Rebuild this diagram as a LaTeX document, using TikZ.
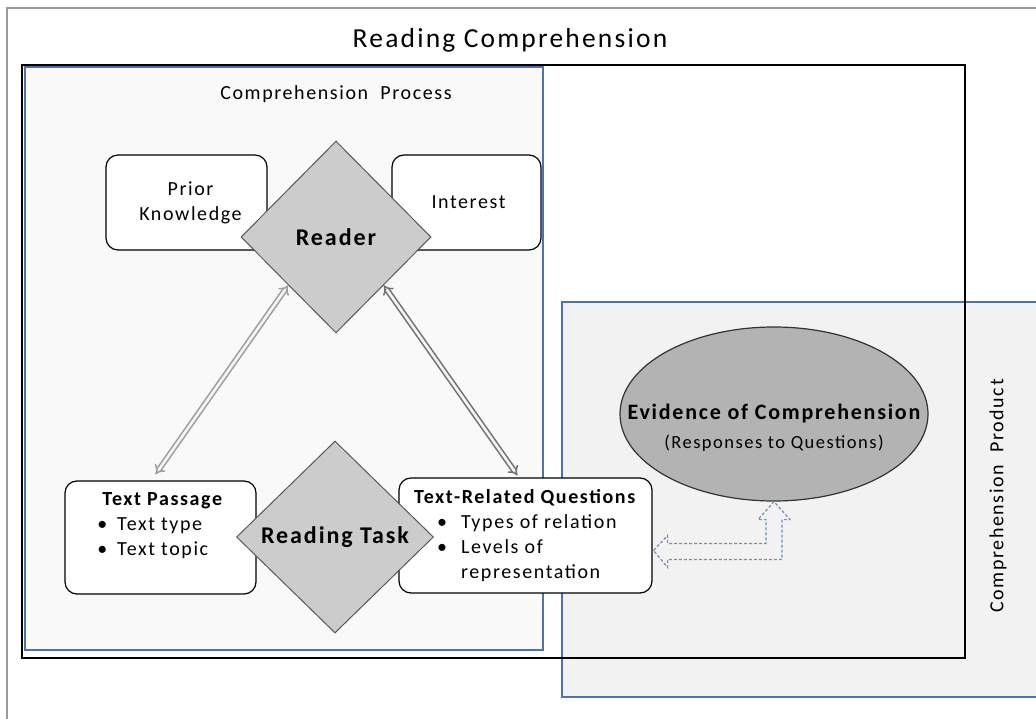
\documentclass[tikz,border=0pt]{standalone}
\usepackage{fontspec}
\setmainfont{Carlito}[LetterSpace=8]
\usetikzlibrary{shapes.geometric,arrows.meta,calc}
\definecolor{frameblue}{HTML}{4F73A8}
\definecolor{processfill}{HTML}{F9F9F9}
\definecolor{productfill}{HTML}{F2F2F2}
\definecolor{diamfill}{HTML}{CCCCCC}
\definecolor{evidfill}{HTML}{B3B3B3}
\begin{document}
\begin{tikzpicture}[x=1pt,y=-1pt,
  every node/.style={inner sep=0pt},
  boxtxt/.style={font=\fontsize{20}{25}\selectfont},
  roundbox/.style={draw=black, line width=1.2pt, rounded corners=12pt, fill=white, boxtxt},
  diam/.style={diamond, draw=black!65, line width=1pt, fill=diamfill, font=\fontsize{24}{28}\selectfont\bfseries},
  twoline/.style={double=white!92!gray, double distance=2.6pt, line width=1.6pt, {Implies}-{Implies}},
  blockarr/.style={draw=frameblue!80, line width=1.2pt, dash pattern=on 3pt off 2pt}]
\useasboundingbox (0,0) rectangle (1036,719);
\fill[white] (0,0) rectangle (1036,719);
% frames
\draw[gray!80, line width=1.5pt] (7,719) -- (7,8) -- (1036,8);
\draw[frameblue, fill=productfill, line width=1.2pt] (562,302) rectangle (1040,697);
\draw[black, line width=1.5pt] (22,65) rectangle (965,658);
\draw[frameblue, fill=processfill, line width=1.2pt] (25,67) rectangle (543,650);
\node[font=\fontsize{27.5}{30}\selectfont] (title) at (510,40) {Reading Comprehension};
\node[font=\fontsize{20}{24}\selectfont] (proc) at (336,94) {Comprehension\ \ Process};
\node[font=\fontsize{20}{24}\selectfont, rotate=90] (prod) at (998,496) {Comprehension\ \ Product};
% reader part
\node[roundbox, minimum width=161, minimum height=95, align=center] (prior) at (186.5,202.5) {\hspace{8pt}Prior\\\hspace{8pt}Knowledge};
\node[roundbox, minimum width=149, minimum height=95] (inter) at (466.5,202.5) {\hspace{4pt}Interest};
\node[diam, minimum width=190, minimum height=192] (reader) at (336,237) {Reader};
% task part
\node[roundbox, minimum width=191, minimum height=113] (tp) at (160.5,537.5) {\begin{tabular}{@{}l@{}}
  \hspace{5pt}\textbf{Text Passage}\hspace{10pt}\\
  \textbullet\hspace{10pt}Text type\\
  \textbullet\hspace{10pt}Text topic\\
  \mbox{}
\end{tabular}};
\node[roundbox, minimum width=253, minimum height=115] (trq) at (525.5,535.5) {\begin{tabular}{@{}l@{}}
  \textbf{Text-Related Questions}\\
  \hspace{23pt}\textbullet\hspace{14pt}Types of relation\\
  \hspace{23pt}\textbullet\hspace{14pt}Levels of\\
  \hspace{23pt}\phantom{\textbullet}\hspace{14pt}representation
\end{tabular}};
\node[diam, minimum width=197, minimum height=192] (task) at (335,537) {Reading Task};
% product
\node[ellipse, draw=black!80, line width=1.2pt, fill=evidfill, minimum width=308, minimum height=174,
  font=\fontsize{20}{29}\selectfont] (evid) at (774,414)
  {\makebox[0pt][c]{\raisebox{-19pt}[0pt][0pt]{\begin{tabular}{@{}c@{}}
    {\fontsize{22}{28}\selectfont\bfseries Evidence of Comprehension}\\
    {\fontsize{18.5}{24}\selectfont (Responses to Questions)}
  \end{tabular}}}};
% links
\draw[twoline, draw=gray!75] (reader.south west) -- ([xshift=-5pt, yshift=6pt]tp.north);
\draw[twoline, draw=gray!90!black] (reader.south east) -- ([xshift=-8pt, yshift=2pt]trq.north);
\coordinate (qa) at ($(trq.east)+(1,15)$);
\coordinate (eb) at (evid.south);
\draw[blockarr] (qa) -- ++(14,-15) -- ++(0,8) -- ($(eb |- qa)+(-8,-7)$) -- ($(eb)+(-8,18)$) -- ++(-8,0) -- (eb)
  -- ($(eb)+(16,18)$) -- ++(-8,0) -- ($(eb |- qa)+(8,9)$) -- ($(qa)+(14,9)$) -- ++(0,8) -- cycle;
\end{tikzpicture}
\end{document}
